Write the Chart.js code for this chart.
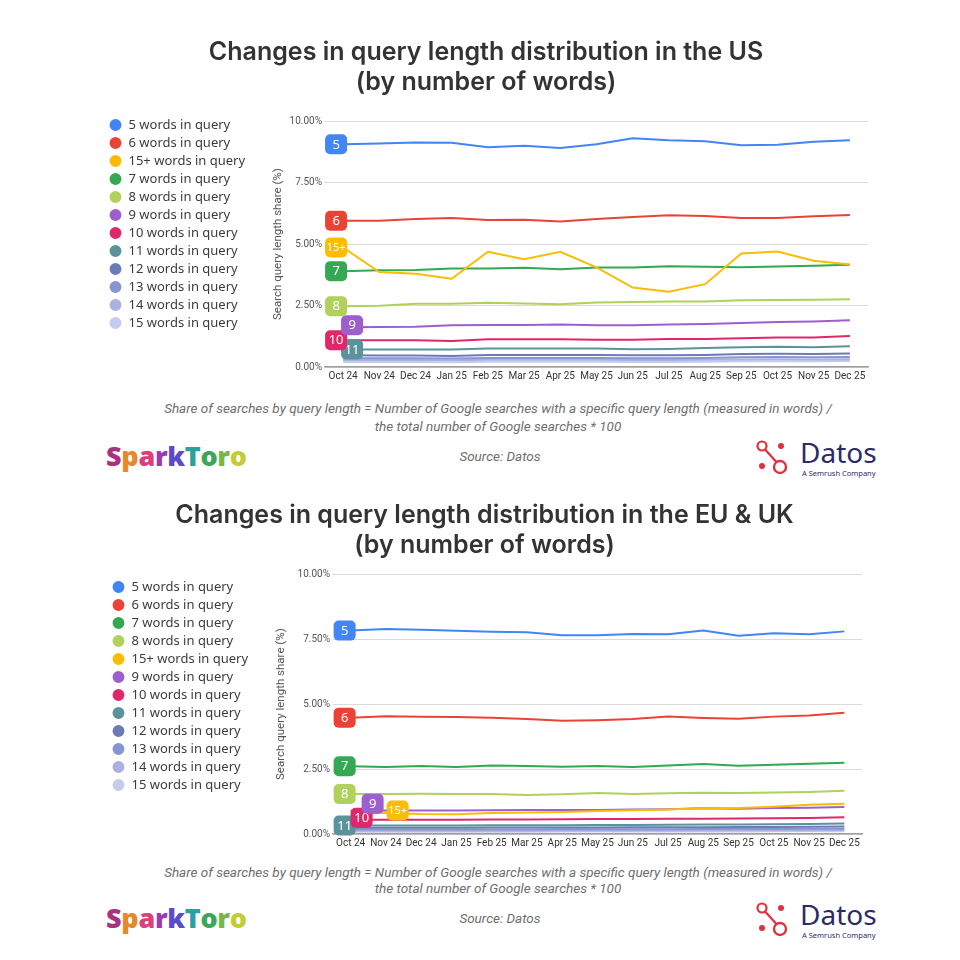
<!DOCTYPE html>
<html>
<head>
<meta charset="utf-8">
<script src="https://cdn.jsdelivr.net/npm/chart.js@4.4.1/dist/chart.umd.min.js"></script>
<style>
  html, body { margin: 0; padding: 0; background: #fff; }
  body { width: 960px; height: 960px; position: relative; overflow: hidden; font-family: Roboto, sans-serif; }
  .box { position: absolute; left: 100px; width: 780px; height: 362px; }
  .note { position: absolute; left: 0; width: 996px; text-align: center; font-style: italic; font-size: 13.5px; line-height: 18px; color: #6e6e6e; margin: 0; }
  .source { position: absolute; left: 0; width: 1000px; text-align: center; font-style: italic; font-size: 13.5px; color: #6e6e6e; }
  .spark { position: absolute; left: 106px; font-family: 'Open Sans', sans-serif; font-weight: 800; font-size: 27px; letter-spacing: -0.3px; line-height: 30px; }
  .datos { position: absolute; left: 752px; width: 140px; height: 40px; }
  .datos svg { position: absolute; left: 0; top: 0; }
  .datos .name { position: absolute; left: 48px; top: -7px; font-family: 'Noto Sans', sans-serif; font-size: 28px; color: #2c2a6b; }
  .datos .sub { position: absolute; left: 50px; top: 28px; font-family: 'Noto Sans', sans-serif; font-size: 7.5px; color: #2c2a6b; white-space: nowrap; }
</style>
</head>
<body>

<div class="box" style="top:30px"><canvas id="usChart"></canvas></div>
<p class="note" style="top:399px">Share of searches by query length = Number of Google searches with a specific query length (measured in words) /<br>the total number of Google searches * 100</p>
<div class="spark" style="top:441px"><span style="color:#a8327f">S</span><span style="color:#e58a2c">p</span><span style="color:#dc3f7c">a</span><span style="color:#9b3bb0">r</span><span style="color:#5b4bc6">k</span><span style="color:#2c9fa0">T</span><span style="color:#3aa85a">o</span><span style="color:#76b843">r</span><span style="color:#c2cd36">o</span></div>
<div class="source" style="top:448px">Source: Datos</div>
<div class="datos" style="top:440px">
  <svg width="40" height="36" viewBox="0 0 40 36">
    <line x1="10" y1="6" x2="28" y2="26" stroke="#e0313f" stroke-width="2.2"/>
    <circle cx="10" cy="6" r="4.5" fill="#fff" stroke="#e0313f" stroke-width="2.2"/>
    <circle cx="29" cy="6" r="3" fill="#e0313f"/>
    <circle cx="10" cy="26" r="3" fill="#e0313f"/>
    <circle cx="28" cy="27" r="6" fill="#fff" stroke="#e0313f" stroke-width="2.4"/>
  </svg>
  <div class="name">Datos</div>
  <div class="sub">A Semrush Company</div>
</div>

<div class="box" style="top:493px"><canvas id="euChart"></canvas></div>
<p class="note" style="top:864px;line-height:16px">Share of searches by query length = Number of Google searches with a specific query length (measured in words) /<br>the total number of Google searches * 100</p>
<div class="spark" style="top:903px"><span style="color:#a8327f">S</span><span style="color:#e58a2c">p</span><span style="color:#dc3f7c">a</span><span style="color:#9b3bb0">r</span><span style="color:#5b4bc6">k</span><span style="color:#2c9fa0">T</span><span style="color:#3aa85a">o</span><span style="color:#76b843">r</span><span style="color:#c2cd36">o</span></div>
<div class="source" style="top:910px">Source: Datos</div>
<div class="datos" style="top:902px">
  <svg width="40" height="36" viewBox="0 0 40 36">
    <line x1="10" y1="6" x2="28" y2="26" stroke="#e0313f" stroke-width="2.2"/>
    <circle cx="10" cy="6" r="4.5" fill="#fff" stroke="#e0313f" stroke-width="2.2"/>
    <circle cx="29" cy="6" r="3" fill="#e0313f"/>
    <circle cx="10" cy="26" r="3" fill="#e0313f"/>
    <circle cx="28" cy="27" r="6" fill="#fff" stroke="#e0313f" stroke-width="2.4"/>
  </svg>
  <div class="name">Datos</div>
  <div class="sub">A Semrush Company</div>
</div>

<script>
// months on the x axis
var months = ['Oct 24', 'Nov 24', 'Dec 24', 'Jan 25', 'Feb 25', 'Mar 25', 'Apr 25', 'May 25',
  'Jun 25', 'Jul 25', 'Aug 25', 'Sep 25', 'Oct 25', 'Nov 25', 'Dec 25'];
var yTicks = [0, 2.5, 5, 7.5, 10];

// US shares (%)
var us5   = [9.06, 9.09, 9.13, 9.12, 8.94, 9.00, 8.91, 9.06, 9.31, 9.22, 9.18, 9.02, 9.04, 9.16, 9.22];
var us6   = [5.95, 5.95, 6.02, 6.06, 5.98, 5.99, 5.92, 6.02, 6.10, 6.17, 6.14, 6.06, 6.06, 6.13, 6.18];
var us15p = [4.86, 3.86, 3.79, 3.59, 4.69, 4.38, 4.69, 4.05, 3.23, 3.06, 3.37, 4.62, 4.70, 4.32, 4.17];
var us7   = [3.90, 3.94, 3.95, 4.01, 4.01, 4.04, 3.98, 4.05, 4.05, 4.10, 4.08, 4.06, 4.09, 4.12, 4.16];
var us8   = [2.47, 2.49, 2.57, 2.57, 2.61, 2.58, 2.55, 2.62, 2.64, 2.66, 2.66, 2.72, 2.73, 2.74, 2.76];
var us9   = [1.62, 1.63, 1.64, 1.70, 1.71, 1.71, 1.73, 1.70, 1.70, 1.73, 1.75, 1.79, 1.83, 1.85, 1.90];
var us10  = [1.09, 1.09, 1.09, 1.06, 1.13, 1.13, 1.13, 1.11, 1.11, 1.14, 1.14, 1.17, 1.20, 1.20, 1.26];
var us11  = [0.71, 0.71, 0.71, 0.71, 0.75, 0.75, 0.75, 0.75, 0.72, 0.73, 0.77, 0.80, 0.82, 0.80, 0.84];
var us12  = [0.48, 0.47, 0.47, 0.45, 0.49, 0.49, 0.49, 0.49, 0.48, 0.48, 0.49, 0.53, 0.54, 0.53, 0.55];
var us13  = [0.36, 0.36, 0.36, 0.35, 0.37, 0.37, 0.37, 0.37, 0.36, 0.36, 0.37, 0.40, 0.41, 0.40, 0.41];
var us14  = [0.28, 0.28, 0.28, 0.27, 0.29, 0.29, 0.29, 0.29, 0.28, 0.28, 0.29, 0.31, 0.32, 0.31, 0.32];
var us15  = [0.20, 0.20, 0.20, 0.19, 0.21, 0.21, 0.21, 0.21, 0.20, 0.20, 0.21, 0.23, 0.23, 0.23, 0.24];

// EU & UK shares (%)
var eu5   = [7.83, 7.89, 7.86, 7.82, 7.79, 7.77, 7.65, 7.65, 7.70, 7.69, 7.83, 7.63, 7.73, 7.69, 7.80];
var eu6   = [4.48, 4.53, 4.52, 4.51, 4.48, 4.43, 4.36, 4.38, 4.43, 4.52, 4.47, 4.44, 4.52, 4.56, 4.67];
var eu7   = [2.61, 2.58, 2.62, 2.58, 2.64, 2.62, 2.59, 2.62, 2.58, 2.64, 2.70, 2.63, 2.67, 2.71, 2.75];
var eu8   = [1.54, 1.54, 1.55, 1.54, 1.54, 1.50, 1.53, 1.58, 1.54, 1.57, 1.59, 1.58, 1.60, 1.62, 1.67];
var eu15p = [0.83, 0.81, 0.77, 0.76, 0.81, 0.83, 0.85, 0.89, 0.92, 0.95, 0.99, 1.00, 1.05, 1.13, 1.17];
var eu9   = [0.90, 0.91, 0.91, 0.91, 0.92, 0.93, 0.93, 0.93, 0.95, 0.96, 0.99, 0.98, 1.00, 1.01, 1.04];
var eu10  = [0.55, 0.55, 0.55, 0.55, 0.56, 0.56, 0.57, 0.58, 0.58, 0.59, 0.59, 0.60, 0.61, 0.62, 0.65];
var eu11  = [0.33, 0.33, 0.33, 0.33, 0.34, 0.34, 0.34, 0.35, 0.35, 0.36, 0.37, 0.37, 0.38, 0.39, 0.41];
var eu12  = [0.24, 0.24, 0.24, 0.24, 0.25, 0.25, 0.25, 0.25, 0.26, 0.26, 0.26, 0.27, 0.27, 0.28, 0.29];
var eu13  = [0.18, 0.18, 0.18, 0.18, 0.18, 0.18, 0.19, 0.19, 0.19, 0.19, 0.20, 0.20, 0.20, 0.21, 0.21];
var eu14  = [0.13, 0.13, 0.13, 0.13, 0.13, 0.13, 0.14, 0.14, 0.14, 0.14, 0.14, 0.15, 0.15, 0.15, 0.16];
var eu15  = [0.09, 0.09, 0.09, 0.09, 0.09, 0.09, 0.10, 0.10, 0.10, 0.10, 0.10, 0.10, 0.11, 0.11, 0.11];

var colors = {
  '5': '#4285f4', '6': '#ea4335', '15+': '#fbbc04', '7': '#34a853', '8': '#b0d15c',
  '9': '#9d5fcd', '10': '#e0276a', '11': '#5b939c', '12': '#6a7bb6', '13': '#8895d3',
  '14': '#a9b2e2', '15': '#c5cbee'
};

function series(key, data, badge) {
  return {
    label: key + ' words in query',
    data: data,
    borderColor: colors[key],
    backgroundColor: colors[key],
    borderWidth: 2,
    pointRadius: 0,
    tension: 0,
    badge: badge
  };
}

// rounded number tags at the first point of a line
const badgePlugin = {
  id: 'badges',
  afterDatasetsDraw(chart) {
    const ctx = chart.ctx;
    for (let i = chart.data.datasets.length - 1; i >= 0; i--) {
      const ds = chart.data.datasets[i];
      if (!ds.badge) continue;
      const pt = chart.getDatasetMeta(i).data[0];
      const x = pt.x + ds.badge.dx, y = pt.y + ds.badge.dy;
      const txt = ds.label.split(' ')[0];
      ctx.save();
      ctx.fillStyle = ds.borderColor;
      ctx.beginPath();
      ctx.roundRect(x - 11, y - 10, 22, 20, 5);
      ctx.fill();
      ctx.fillStyle = '#fff';
      ctx.font = (txt.length > 2 ? '11px' : '13px') + " 'Noto Sans', sans-serif";
      ctx.textAlign = 'center';
      ctx.textBaseline = 'middle';
      ctx.fillText(txt, x, y + 0.5);
      ctx.restore();
    }
  }
};

function makeChart(id, title, datasets, o) {
  return new Chart(id, {
    type: 'line',
    data: { labels: months, datasets: datasets },
    plugins: [badgePlugin],
    options: {
      responsive: true,
      maintainAspectRatio: false,
      animation: false,
      layout: { padding: { left: o.padLeft, right: o.padRight, top: 0, bottom: o.padBottom } },
      plugins: {
        title: {
          display: true,
          text: title,
          color: '#333',
          font: { family: 'Inter', size: 25, weight: '600', lineHeight: 1.2 },
          padding: { top: 7, bottom: o.titleBottom }
        },
        legend: {
          position: 'left',
          align: 'start',
          maxWidth: o.legendWidth,
          title: { display: true, text: ' ', font: { size: 10 }, padding: { top: o.legendTop, bottom: 0 } },
          labels: {
            usePointStyle: true,
            pointStyle: 'circle',
            boxWidth: 13,
            boxHeight: 7,
            padding: 5,
            color: '#3c3c3c',
            font: { family: "'Noto Sans', sans-serif", size: 13 }
          }
        },
        tooltip: { enabled: false }
      },
      scales: {
        x: {
          offset: true,
          grid: { display: false, drawTicks: false },
          border: { display: true, color: '#9e9e9e', width: 1.5 },
          ticks: { autoSkip: false, maxRotation: 0, padding: 3.5, color: '#333', font: { family: 'Roboto', size: 10 } }
        },
        y: {
          min: 0,
          max: 10,
          afterFit: function (scale) { scale.width = o.axisWidth; },
          afterBuildTicks: function (scale) { scale.ticks = yTicks.map(v => ({ value: v })); },
          border: { display: false },
          grid: { color: '#dadada', drawTicks: false },
          ticks: {
            padding: 3,
            color: '#555',
            font: { family: 'Roboto', size: 10 },
            callback: v => v.toFixed(2) + '%'
          },
          title: {
            display: true,
            text: 'Search query length share (%)',
            color: '#555',
            font: { family: 'Roboto', size: 11.5 },
            padding: { top: o.axisTitleTop, bottom: 0 }
          }
        }
      }
    }
  });
}

const d0 = { dx: -7, dy: 0 };

makeChart('usChart', ['Changes in query length distribution in the US', '(by number of words)'], [
  series('5', us5, d0),
  series('6', us6, d0),
  series('15+', us15p, d0),
  series('7', us7, d0),
  series('8', us8, d0),
  series('9', us9, { dx: 9, dy: -2 }),
  series('10', us10, d0),
  series('11', us11, { dx: 9, dy: 0 }),
  series('12', us12),
  series('13', us13),
  series('14', us14),
  series('15', us15)
], { padLeft: 4, padRight: 12, padBottom: 6, titleBottom: 24.2, legendTop: 71.5, legendWidth: 146, axisWidth: 75, axisTitleTop: 21 });

makeChart('euChart', ['Changes in query length distribution in the EU & UK', '(by number of words)'], [
  series('5', eu5, { dx: -6, dy: 0 }),
  series('6', eu6, { dx: -6, dy: 0 }),
  series('7', eu7, { dx: -6, dy: 0 }),
  series('8', eu8, { dx: -6, dy: 0 }),
  series('15+', eu15p, { dx: 47, dy: -2 }),
  series('9', eu9, { dx: 22, dy: -7 }),
  series('10', eu10, { dx: 11, dy: -2 }),
  series('11', eu11, { dx: -6, dy: 0 }),
  series('12', eu12),
  series('13', eu13),
  series('14', eu14),
  series('15', eu15)
], { padLeft: 7, padRight: 18, padBottom: 1.9, titleBottom: 14.2, legendTop: 70.5, legendWidth: 146, axisWidth: 80, axisTitleTop: 21 });
</script>
</body>
</html>
